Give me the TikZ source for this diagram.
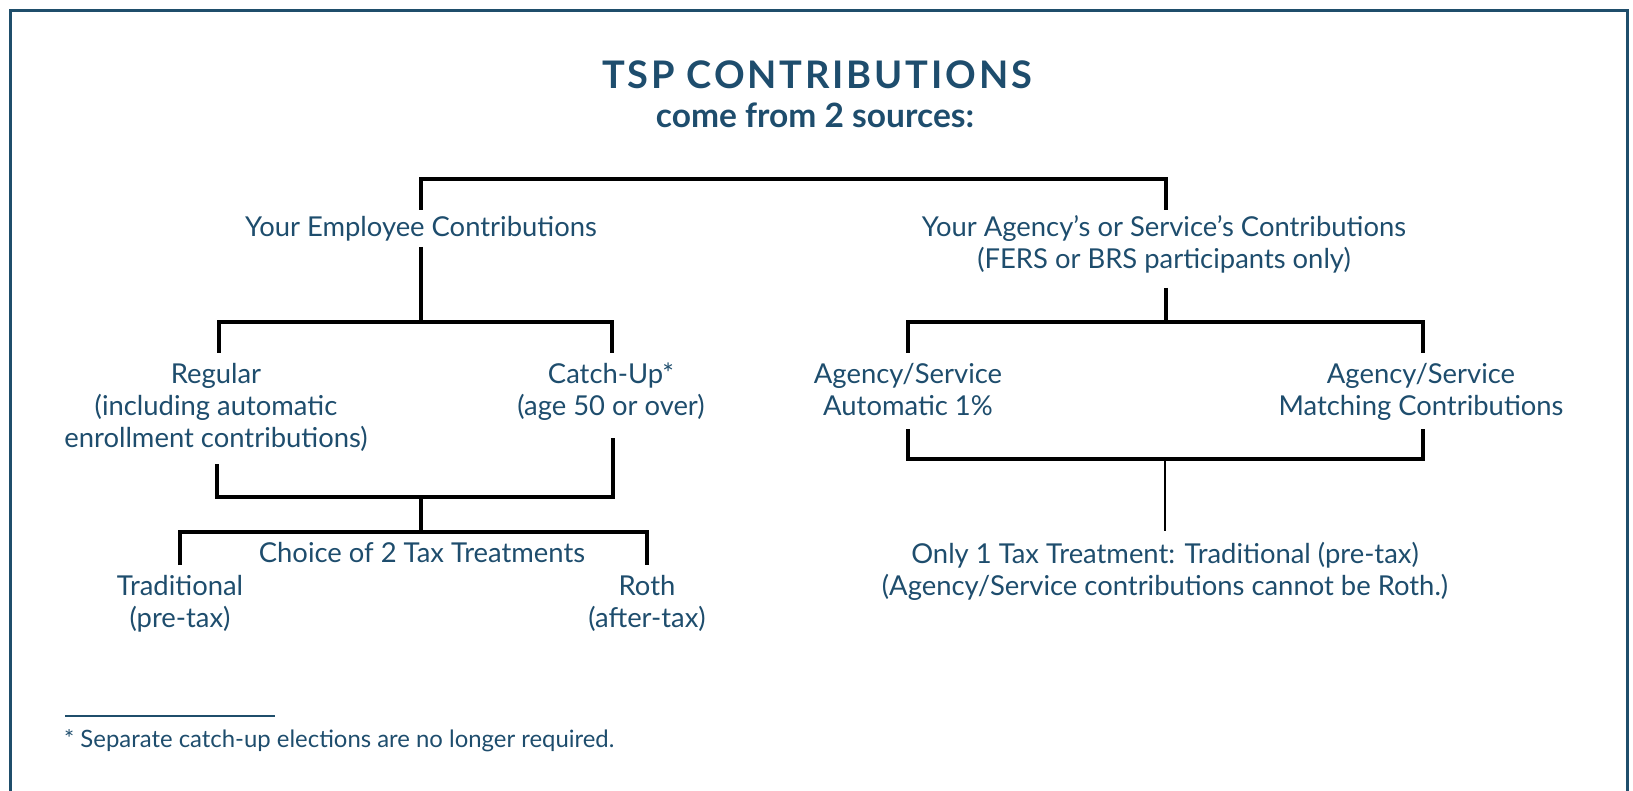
\documentclass[tikz,border=0pt]{standalone}
\usepackage{fontspec}
\setmainfont{Lato}
\usetikzlibrary{positioning}
\definecolor{tspblue}{HTML}{1E4D6D}
\definecolor{tspframe}{HTML}{1F4E6B}
\tikzset{
    txt/.style={text=tspblue,font=\fontsize{27.4}{32}\selectfont,align=center,anchor=base,inner sep=0pt},
    bar/.style={draw=black,line width=3.8pt},
    thinbar/.style={draw=black,line width=3.2pt}
}

\begin{document}
\begin{tikzpicture}[x=1pt,y=-1pt]
    \useasboundingbox (0,0) rectangle (1633,791);
    % open frame, runs off the bottom edge
    \draw[tspframe,line width=3pt] (10.5,800) -- (10.5,11) -- (1627,11) -- (1627,800);

    % heading
    \node[txt,font=\fontsize{38}{40}\selectfont\bfseries\addfontfeatures{LetterSpace=7.4}] (title) at (817,89) {TSP CONTRIBUTIONS};
    \node[txt,font=\fontsize{33.5}{36}\selectfont\bfseries] (sub) at (815,128) {come from 2 sources:};

    % the two sources (base = last line)
    \node[txt] (emp)    at (421,237)  {Your Employee Contributions};
    \node[txt] (agency) at (1164,269) {Your Agency’s or Service’s Contributions\\(FERS or BRS participants only)};

    \node[txt] (regular) at (216,447)  {Regular\\(including automatic\\enrollment contributions)};
    \node[txt] (catchup) at (611,415)  {Catch-Up*\\(age 50 or over)};
    \node[txt] (auto)    at (908,415)  {Agency/Service\\Automatic 1\%};
    \node[txt] (match)   at (1421,415) {Agency/Service\\Matching Contributions};

    \node[txt] (choice) at (422,562)  {Choice of 2 Tax Treatments};
    \node[txt] (trad)   at (180,627)  {Traditional\\(pre-tax)};
    \node[txt] (roth)   at (647,627)  {Roth\\(after-tax)};
    \node[txt] (only)   at (1165,595) {Only 1 Tax Treatment: Traditional (pre-tax)\\(Agency/Service contributions cannot be Roth.)};

    % junctions
    \coordinate (top)  at (793,179);
    \coordinate (ej)   at (421,322);
    \coordinate (aj)   at (1166,322);
    \coordinate (ej2)  at (421,497);
    \coordinate (tj)   at (421,532);
    \coordinate (aj2)  at (1165,459);

    \draw[bar] ([yshift=27]emp.base) |- (top) -| ([xshift=2,yshift=59]agency.base);
    \draw[bar] ([yshift=-10]emp.base) -- (ej);
    \draw[bar] ([xshift=3,yshift=94]regular.base) |- (ej) -| ([xshift=1,yshift=62]catchup.base);
    \draw[bar] ([xshift=2,yshift=-19]agency.base) -- (aj);
    \draw[bar] ([yshift=62]auto.base) |- (aj) -| ([xshift=2,yshift=62]match.base);

    \draw[thinbar] ([xshift=1,yshift=-17]regular.base) |- (ej2) -| ([xshift=2,yshift=-23]catchup.base);
    \draw[thinbar] (ej2) -- (tj);
    \draw[thinbar] ([yshift=62]trad.base) |- (tj) -| ([yshift=62]roth.base);

    \draw[thinbar] ([yshift=-14]auto.base) |- (aj2) -| ([xshift=2,yshift=-14]match.base);
    \draw[thinbar,line width=2.6pt] (aj2) -- ([yshift=64]only.base);

    % footnote
    \draw[tspframe,line width=2.5pt] (65,716) -- (275,716);
    \node[txt,anchor=base west,font=\fontsize{23.9}{26}\selectfont] (note) at (64,747) {* Separate catch-up elections are no longer required.};
\end{tikzpicture}
\end{document}
